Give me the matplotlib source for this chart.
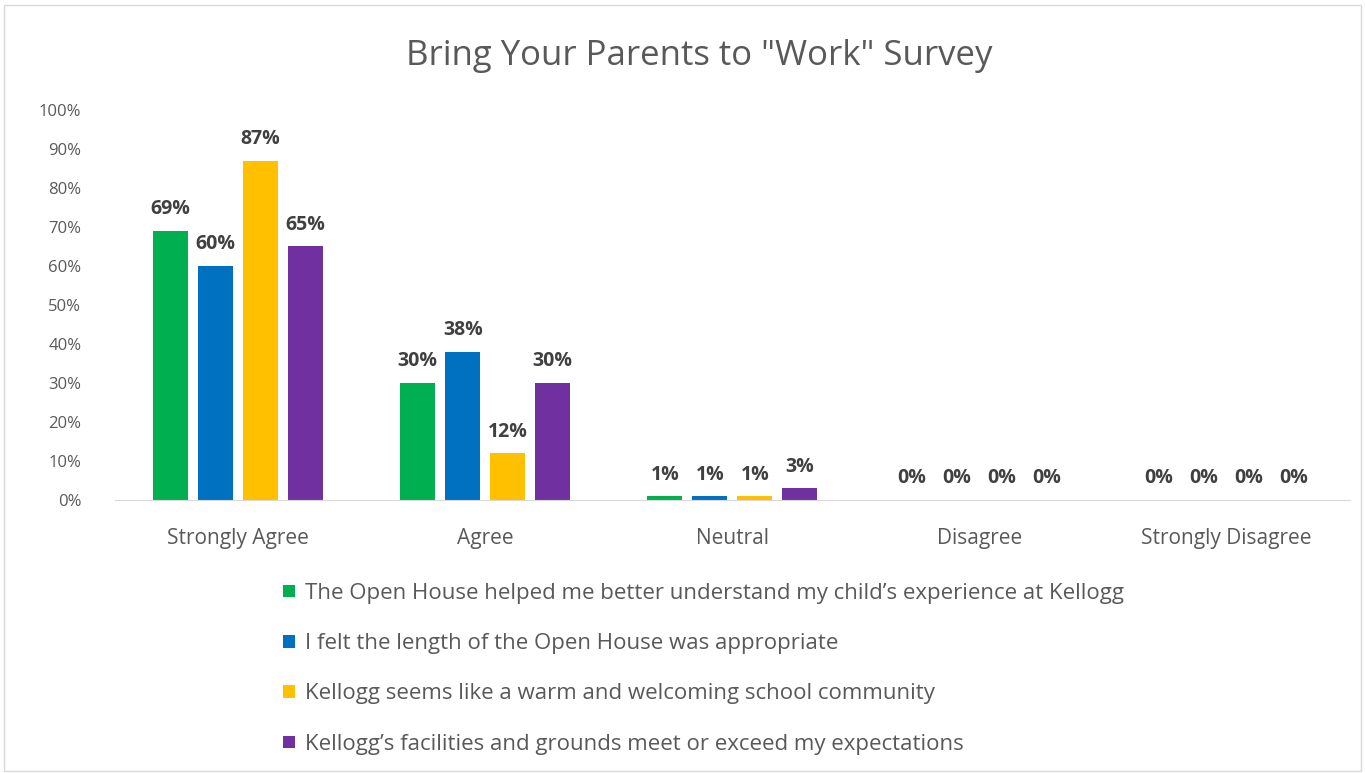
import matplotlib.pyplot as plt
import numpy as np
from matplotlib.patches import Rectangle, Patch

categories = ["Strongly Agree", "Agree", "Neutral", "Disagree", "Strongly Disagree"]
series_names = [
    "The Open House helped me better understand my child\u2019s experience at Kellogg",
    "I felt the length of the Open House was appropriate",
    "Kellogg seems like a warm and welcoming school community",
    "Kellogg\u2019s facilities and grounds meet or exceed my expectations",
]
values = [
    [69, 30, 1, 0, 0],
    [60, 38, 1, 0, 0],
    [87, 12, 1, 0, 0],
    [65, 30, 3, 0, 0],
]
colors = ["#00b050", "#0070c0", "#ffc000", "#7030a0"]

plt.rcParams['font.family'] = ['Open Sans', 'DejaVu Sans']

fig = plt.figure(figsize=(13.65, 7.73), dpi=100)
ax = fig.add_axes([0.084, 0.353, 0.905, 0.505])

x = np.arange(len(categories))
w = 0.142
step = 0.182
for i, (vals, c) in enumerate(zip(values, colors)):
    pos = x + (i - 1.5) * step
    ax.bar(pos, vals, width=w, color=c)
    for p, v in zip(pos, vals):
        ax.text(p, v + 3, f"{v}%", ha='center', va='bottom', fontsize=14,
                fontweight='bold', color='#404040')

ax.set_xlim(-0.5, 4.5)
ax.set_ylim(0, 100)
ax.set_yticks(range(0, 101, 10))
ax.set_yticklabels([f"{t}%" for t in range(0, 101, 10)])
ax.set_xticks(x)
ax.set_xticklabels(categories)
ax.tick_params(axis='both', length=0, labelcolor='#595959')
ax.tick_params(axis='x', pad=20, labelsize=15)
ax.tick_params(axis='y', pad=24, labelsize=12)
for s in ['top', 'right', 'left']:
    ax.spines[s].set_visible(False)
ax.spines['bottom'].set_color('#d9d9d9')

fig.suptitle('Bring Your Parents to "Work" Survey', x=0.512, y=0.95,
             fontsize=25, color='#595959')

handles = [Patch(facecolor=c) for c in colors]
fig.legend(handles, series_names, loc='upper left', bbox_to_anchor=(0.193, 0.272),
           frameon=False, fontsize=16, labelcolor='#595959', handlelength=0.5,
           handleheight=0.5, handletextpad=0.45, labelspacing=1.32)

fig.patches.append(Rectangle((0.003, 0.003), 0.994, 0.99, transform=fig.transFigure,
                             fill=False, edgecolor='#d9d9d9', linewidth=1))

fig.savefig('out.png', dpi=100)
